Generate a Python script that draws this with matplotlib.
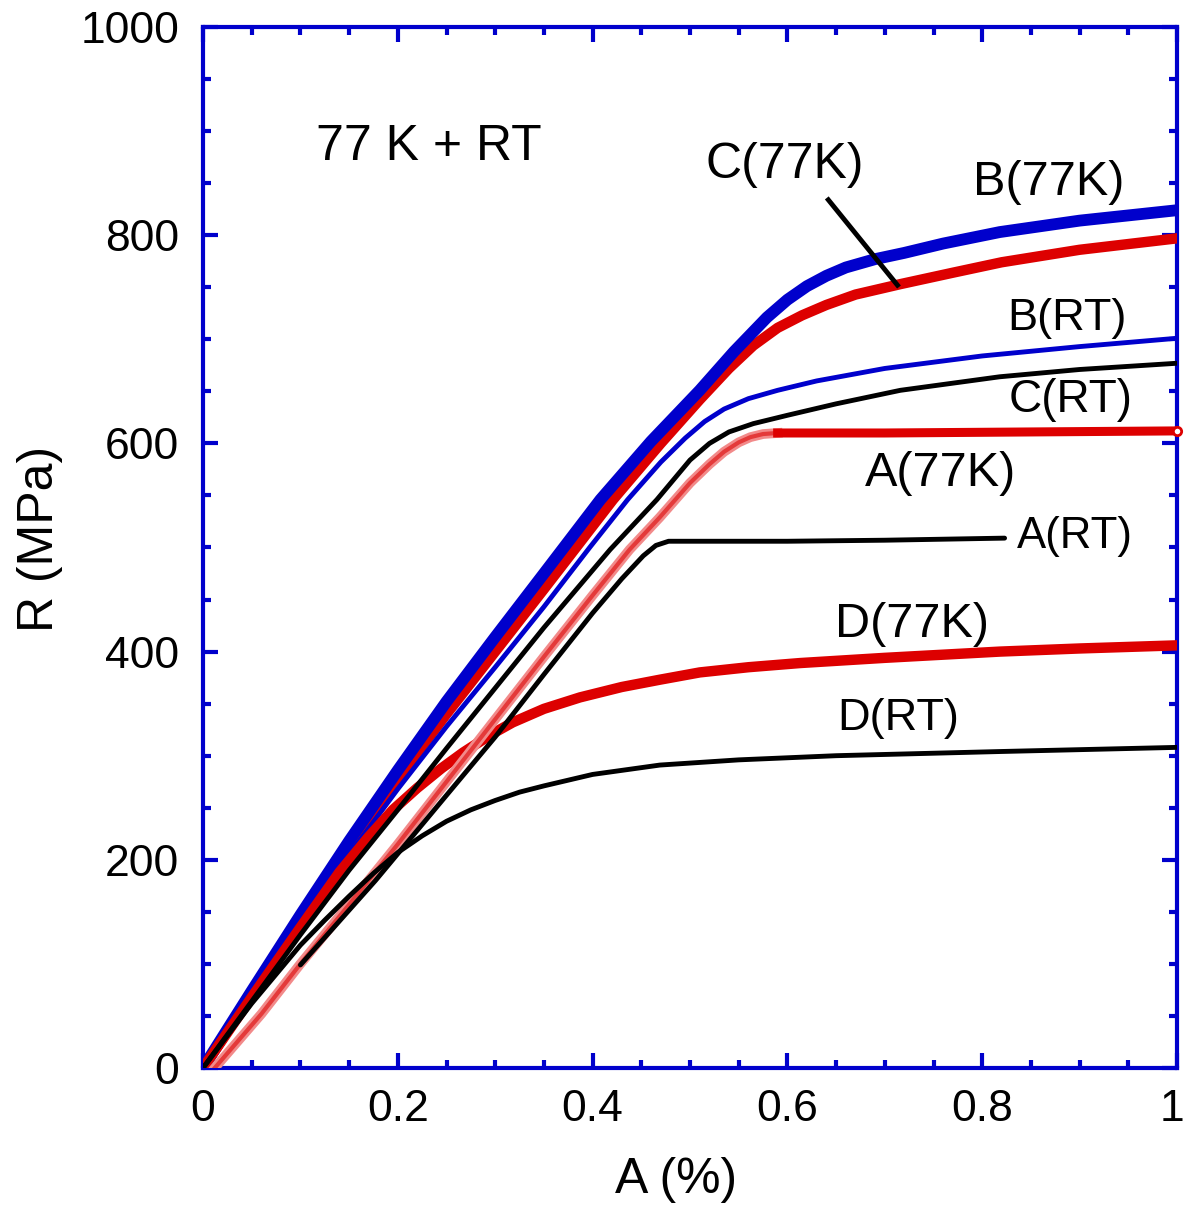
import matplotlib
matplotlib.use("Agg")
import matplotlib.pyplot as plt
import matplotlib.transforms as mtransforms
from matplotlib.ticker import MultipleLocator, FuncFormatter

plt.rcParams['font.family'] = ['Liberation Sans', 'DejaVu Sans']

# ---- data (strain %, stress MPa) ----
b77_x = [0, 0.05, 0.1, 0.15, 0.2, 0.25, 0.3, 0.35, 0.408, 0.46, 0.51, 0.545, 0.579, 0.6, 0.62,
         0.64, 0.66, 0.69, 0.72, 0.76, 0.818, 0.9, 1.0]
b77_y = [0, 74, 147, 218, 286, 352, 414, 475, 546, 602, 651, 688, 721, 738, 751,
         761, 769, 777, 783, 792, 803, 814, 824]

c77_x = [0, 0.05, 0.1, 0.15, 0.2, 0.25, 0.3, 0.35, 0.421, 0.47, 0.51, 0.54, 0.565, 0.59, 0.615,
         0.64, 0.67, 0.716, 0.77, 0.82, 0.9, 1.0]
c77_y = [0, 70, 140, 210, 278, 340, 400, 460, 546, 600, 642, 672, 694, 711, 723,
         733, 743, 753, 764, 774, 786, 797]

brt_x = [0, 0.05, 0.1, 0.15, 0.2, 0.25, 0.3, 0.35, 0.397, 0.436, 0.47, 0.495, 0.515, 0.535, 0.56,
         0.59, 0.63, 0.7, 0.8, 0.9, 1.0]
brt_y = [0, 69, 138, 205, 268, 328, 385, 443, 500, 546, 582, 605, 621, 633, 643,
         651, 660, 672, 684, 693, 701]

crt_x = [0, 0.05, 0.1, 0.15, 0.2, 0.25, 0.3, 0.35, 0.418, 0.466, 0.5, 0.52, 0.54, 0.565, 0.6,
         0.65, 0.716, 0.818, 0.9, 1.0]
crt_y = [0, 64, 128, 190, 248, 307, 365, 423, 498, 546, 584, 600, 611, 619, 627,
         638, 651, 664, 671, 677]

a77_rise_x = [0.012, 0.06, 0.1, 0.15, 0.2, 0.25, 0.3, 0.35, 0.4, 0.438, 0.469, 0.5, 0.52, 0.535,
              0.55, 0.562, 0.575, 0.59]
a77_rise_y = [0, 52, 100, 157, 215, 275, 335, 395, 454, 498, 529, 562, 580, 592,
              601, 606, 609, 610]
a77_flat_x = [0.59, 0.7, 0.85, 1.0]
a77_flat_y = [610, 610, 611, 612]

art_x = [0.1, 0.177, 0.25, 0.3, 0.35, 0.4, 0.43, 0.452, 0.465, 0.478, 0.5, 0.6, 0.7, 0.823]
art_y = [99, 180, 262, 318, 378, 437, 470, 492, 502, 506, 506, 506, 507, 509]

d77_x = [0, 0.05, 0.1, 0.14, 0.17, 0.195, 0.22, 0.245, 0.267, 0.295, 0.318, 0.35, 0.387, 0.43,
         0.469, 0.51, 0.56, 0.613, 0.7, 0.818, 0.9, 1.0]
d77_y = [0, 68, 135, 188, 222, 248, 269, 288, 303, 320, 332, 345, 356, 366,
         373, 380, 385, 389, 394, 400, 403, 406]

drt_x = [0, 0.05, 0.1, 0.125, 0.15, 0.175, 0.2, 0.225, 0.25, 0.275, 0.3, 0.325, 0.35, 0.4,
         0.469, 0.55, 0.65, 0.818, 1.0]
drt_y = [0, 62, 118, 142, 165, 187, 207, 223, 237, 248, 257, 265, 271, 282,
         291, 296, 300, 304, 308]

x_ticks = [0, 0.2, 0.4, 0.6, 0.8, 1.0]
y_ticks = [0, 200, 400, 600, 800, 1000]

labels = ["77 K + RT", "C(77K)", "B(77K)", "B(RT)", "C(RT)", "A(77K)", "A(RT)", "D(77K)", "D(RT)"]
label_x = [0.116, 0.516, 0.791, 0.826, 0.827, 0.680, 0.836, 0.649, 0.651]
label_y = [885, 867, 851, 720, 642, 571, 511, 426, 336]
label_size = [36, 36, 35, 32.5, 33, 35, 31.5, 35, 32.5]

pointer_x = [0.642, 0.713]
pointer_y = [834, 752]

BLUE = '#0000cc'
RED = '#dd0000'

fig = plt.figure(figsize=(11.86, 12.07), dpi=100)
ax = fig.add_axes([203/1186, 1-1068/1207, 974/1186, 1041/1207])

ax.plot(c77_x, c77_y, color=RED, lw=7.5, solid_capstyle='round', solid_joinstyle='round', zorder=3)
ax.plot(b77_x, b77_y, color=BLUE, lw=8.5, solid_capstyle='round', solid_joinstyle='round', zorder=3)
ax.plot(brt_x, brt_y, color=BLUE, lw=3.5, solid_joinstyle='round', zorder=3)
ax.plot(d77_x, d77_y, color=RED, lw=7.5, solid_joinstyle='round', zorder=3)
ax.plot(a77_rise_x, a77_rise_y, color='#f28a8a', lw=7, solid_joinstyle='round', zorder=3)
ax.plot(a77_rise_x, a77_rise_y, color='#e43a3a', lw=3, solid_joinstyle='round', zorder=3)
ax.plot(a77_flat_x, a77_flat_y, color=RED, lw=6.5, zorder=3)
ax.plot(a77_flat_x[-1:], a77_flat_y[-1:], 'o', ms=6, mfc='white', mec=RED, mew=2,
        clip_on=False, zorder=5)
ax.plot(crt_x, crt_y, color='black', lw=3.5, solid_joinstyle='round', zorder=4)
ax.plot(art_x, art_y, color='black', lw=3.5, solid_capstyle='round', solid_joinstyle='round', zorder=4)
ax.plot(drt_x, drt_y, color='black', lw=3.5, solid_joinstyle='round', zorder=4)

ax.plot(pointer_x, pointer_y, color='black', lw=3.5, zorder=5)

for t, x, y, s in zip(labels, label_x, label_y, label_size):
    ax.text(x, y, t, fontsize=s, ha='left', va='center', color='black', zorder=6)

ax.set_xlim(0, 1)
ax.set_ylim(0, 1000)
ax.set_xticks(x_ticks)
ax.set_yticks(y_ticks)
ax.xaxis.set_minor_locator(MultipleLocator(0.05))
ax.yaxis.set_minor_locator(MultipleLocator(50))
ax.xaxis.set_major_formatter(FuncFormatter(lambda v, p: ('%g' % v)))

for sp in ax.spines.values():
    sp.set_color(BLUE)
    sp.set_linewidth(3)

ax.tick_params(which='both', direction='in', top=True, right=True, color=BLUE, width=3)
ax.tick_params(which='major', length=11, labelsize=32)
ax.tick_params(which='minor', length=6)
ax.tick_params(axis='y', which='major', pad=17)
ax.tick_params(axis='x', which='major', pad=15)

ax.set_xlabel('A (%)', fontsize=36, va='center')
ax.set_ylabel('R (MPa)', fontsize=36, va='center')
ax.xaxis.set_label_coords(0.486, -0.108)
ax.yaxis.set_label_coords(-0.167, 0.508)

fig.canvas.draw()
shift = mtransforms.ScaledTranslation(-5/100, 0, fig.dpi_scale_trans)
for tick in ax.xaxis.get_major_ticks():
    if abs(tick.get_loc() - 1.0) < 1e-9:
        tick.label1.set_transform(tick.label1.get_transform() + shift)

fig.savefig('out.png', dpi=100)
